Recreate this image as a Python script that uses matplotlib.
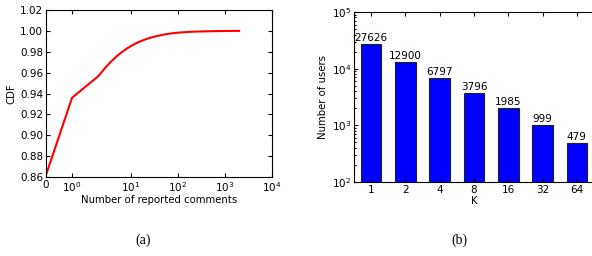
import matplotlib
matplotlib.use('Agg')
import matplotlib.pyplot as plt
from matplotlib.ticker import NullLocator, LogLocator

# ---- data ----
comments = [0, 1, 2, 3, 4, 5, 6, 7, 8, 10, 12, 15, 20, 30, 50, 70, 100, 200, 500, 1000, 2000]
cdf = [0.862, 0.936, 0.9565, 0.966, 0.9718, 0.9758, 0.9787, 0.981, 0.9828, 0.9855, 0.9875,
       0.9896, 0.9918, 0.9943, 0.9965, 0.9975, 0.9983, 0.9992, 0.9997, 0.9999, 1.0]
x_ticks = [0, 1, 10, 100, 1000, 10000]
x_tick_labels = ['0', '$10^0$', '$10^1$', '$10^2$', '$10^3$', '$10^4$']
y_ticks = [0.86, 0.88, 0.90, 0.92, 0.94, 0.96, 0.98, 1.00, 1.02]

k_labels = ['1', '2', '4', '8', '16', '32', '64']
users = [27626, 12900, 6797, 3796, 1985, 999, 479]

plt.rcParams['mathtext.default'] = 'regular'
FS = 7.5
plt.rcParams['font.size'] = FS

fig = plt.figure(figsize=(5.92, 2.56), dpi=100)
W, H = 592, 256

# ---- left panel ----
ax1 = fig.add_axes([46 / W, 1 - 177 / H, 226 / W, 167 / H])
ax1.plot(comments, cdf, color='red', linewidth=1.5)
ax1.set_xscale('symlog', linthresh=2, linscale=1)
ax1.set_xlim(0, 10000)
ax1.set_ylim(0.86, 1.02)
ax1.set_xticks(x_ticks)
ax1.set_xticklabels(x_tick_labels)
ax1.xaxis.set_minor_locator(NullLocator())
ax1.set_yticks(y_ticks)
ax1.set_yticklabels(['%.2f' % v for v in y_ticks])
ax1.tick_params(direction='in', top=True, right=True, length=3, width=0.8, pad=2, labelsize=FS)
ax1.set_xlabel('Number of reported comments', fontsize=7.3, labelpad=1)
ax1.set_ylabel('CDF', fontsize=7.3, labelpad=3)

# ---- right panel ----
ax2 = fig.add_axes([354 / W, 1 - 182 / H, 240 / W, 170 / H])
pos = list(range(len(users)))
ax2.bar(pos, users, width=0.6, color='blue', edgecolor='#222222', linewidth=0.8)
ax2.set_yscale('log')
ax2.set_ylim(100, 1e5)
ax2.set_xlim(-0.5, len(users) - 0.5)
ax2.set_xticks(pos)
ax2.set_xticklabels(k_labels)
ax2.yaxis.set_major_locator(LogLocator(base=10))
for p, v in zip(pos, users):
    ax2.text(p, v * 1.04, str(v), ha='center', va='bottom', fontsize=FS)
ax2.spines['right'].set_visible(False)
ax2.tick_params(which='both', direction='in', top=True, right=False, width=0.8, pad=2, labelsize=FS)
ax2.tick_params(which='major', length=3)
ax2.tick_params(which='minor', length=1.5)
ax2.set_xlabel('K', fontsize=7.3, labelpad=1)
ax2.set_ylabel('Number of users', fontsize=7.3, labelpad=3)

# ---- captions ----
fig.text(143 / W, 1 - 240 / H, '(a)', ha='center', va='center', fontsize=10,
         family='Liberation Serif')
fig.text(459 / W, 1 - 240 / H, '(b)', ha='center', va='center', fontsize=10,
         family='Liberation Serif')

fig.savefig('out.png', dpi=100)
